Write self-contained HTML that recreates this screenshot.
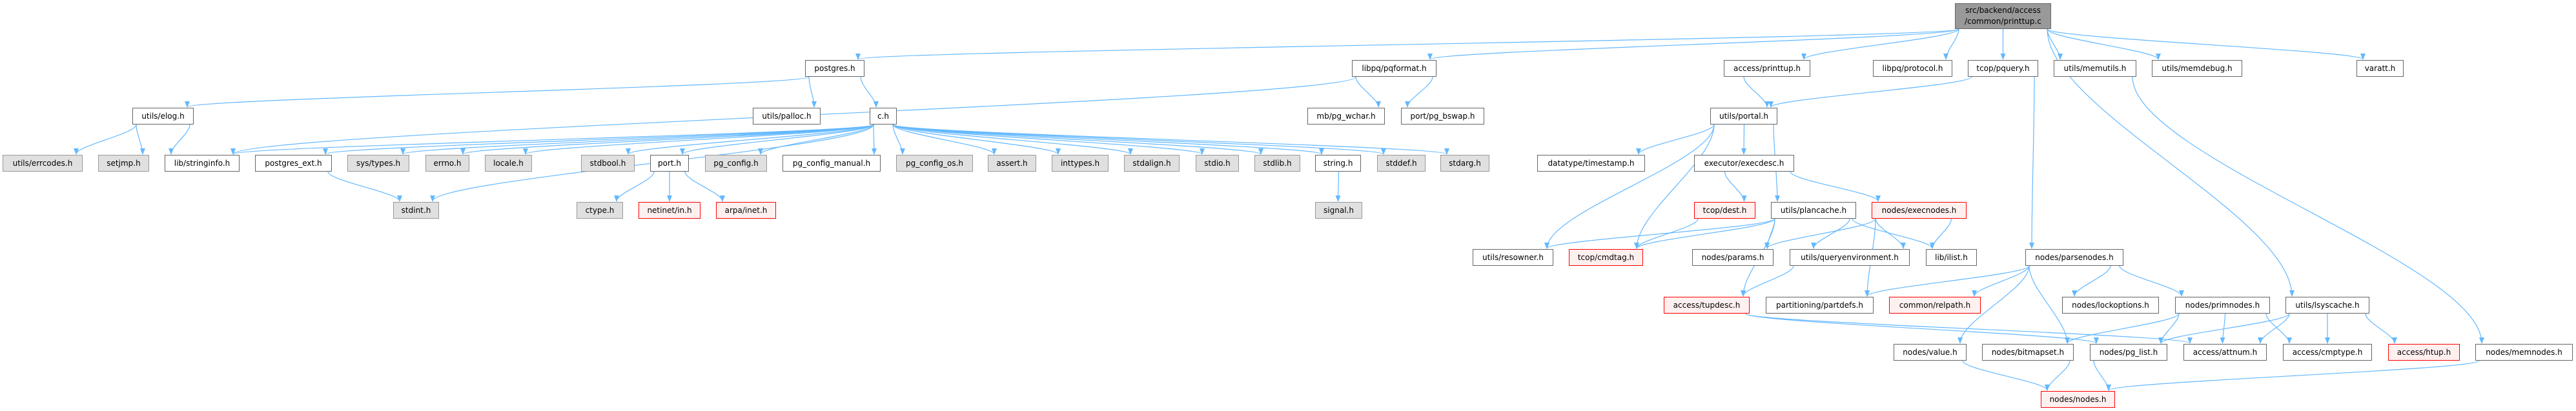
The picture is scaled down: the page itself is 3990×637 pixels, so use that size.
<!DOCTYPE html>
<html><head><meta charset="utf-8"><style>
html,body{margin:0;padding:0;background:#fff;width:3990px;height:637px;overflow:hidden;}
#c{position:relative;width:3990px;height:637px;}
.n{position:absolute;box-sizing:border-box;height:26px;border:1px solid #666;background:#fff;font-family:"DejaVu Sans","Liberation Sans",sans-serif;font-size:12px;line-height:24px;text-align:center;color:#000;white-space:nowrap;overflow:hidden;}
.g{background:#e0e0e0;border-color:#999;}
.r{background:#fff0f0;border-color:#f00;}
svg{position:absolute;left:0;top:0;}
</style></head><body><div id="c">
<svg id="s" width="3990" height="637"><defs><marker id="a" markerWidth="10" markerHeight="8" refX="9" refY="4" orient="auto" markerUnits="userSpaceOnUse"><path d="M0,0 L10,4 L0,8 z" fill="#63b8ff"/></marker></defs></svg>
</div>
<script>
var R=[5,93,167,240,313,386,460,533,606];
var N={
root:[3028,3177,0,'',"src/backend/access<br>/common/printtup.c"],
postgres:[1247,1339,1,'','postgres.h'],
pqformat:[2094,2225,1,'','libpq/pqformat.h'],
aprinttup:[2670,2804,1,'','access/printtup.h'],
protocol:[2901,3024,1,'','libpq/protocol.h'],
pquery:[3048,3157,1,'','tcop/pquery.h'],
memutils:[3181,3309,1,'','utils/memutils.h'],
memdebug:[3333,3473,1,'','utils/memdebug.h'],
varatt:[3650,3723,1,'','varatt.h'],
elog:[205,300,2,'','utils/elog.h'],
palloc:[1166,1271,2,'','utils/palloc.h'],
ch:[1347,1389,2,'','c.h'],
wchar:[2025,2145,2,'','mb/pg_wchar.h'],
bswap:[2170,2299,2,'','port/pg_bswap.h'],
portal:[2649,2753,2,'','utils/portal.h'],
errcodes:[4,128,3,'g','utils/errcodes.h'],
setjmp:[152,231,3,'g','setjmp.h'],
stringinfo:[255,371,3,'','lib/stringinfo.h'],
pgext:[395,514,3,'','postgres_ext.h'],
systypes:[538,634,3,'g','sys/types.h'],
errno:[659,727,3,'g','errno.h'],
locale:[751,824,3,'g','locale.h'],
stdbool:[900,983,3,'g','stdbool.h'],
port:[1007,1067,3,'','port.h'],
pgconfig:[1092,1188,3,'g','pg_config.h'],
pgcm:[1212,1364,3,'','pg_config_manual.h'],
pgcos:[1388,1507,3,'g','pg_config_os.h'],
assert:[1530,1605,3,'g','assert.h'],
inttypes:[1629,1717,3,'g','inttypes.h'],
stdalign:[1741,1827,3,'g','stdalign.h'],
stdio:[1852,1919,3,'g','stdio.h'],
stdlib:[1943,2014,3,'g','stdlib.h'],
string:[2037,2108,3,'','string.h'],
stddef:[2133,2208,3,'g','stddef.h'],
stdarg:[2231,2307,3,'g','stdarg.h'],
timestamp:[2381,2548,3,'','datatype/timestamp.h'],
execdesc:[2624,2779,3,'','executor/execdesc.h'],
stdint:[609,680,4,'g','stdint.h'],
ctype:[893,965,4,'g','ctype.h'],
netinet:[989,1085,4,'r','netinet/in.h'],
arpa:[1109,1202,4,'r','arpa/inet.h'],
signal:[2037,2110,4,'g','signal.h'],
dest:[2624,2719,4,'r','tcop/dest.h'],
plancache:[2743,2875,4,'','utils/plancache.h'],
execnodes:[2899,3046,4,'r','nodes/execnodes.h'],
resowner:[2281,2406,5,'','utils/resowner.h'],
cmdtag:[2430,2545,5,'r','tcop/cmdtag.h'],
params:[2621,2747,5,'','nodes/params.h'],
qenv:[2772,2958,5,'','utils/queryenvironment.h'],
ilist:[2983,3062,5,'','lib/ilist.h'],
parsenodes:[3137,3289,5,'','nodes/parsenodes.h'],
tupdesc:[2577,2710,6,'r','access/tupdesc.h'],
partdefs:[2735,2902,6,'','partitioning/partdefs.h'],
relpath:[2926,3068,6,'r','common/relpath.h'],
lockopt:[3194,3344,6,'','nodes/lockoptions.h'],
primnodes:[3369,3516,6,'','nodes/primnodes.h'],
lsyscache:[3540,3670,6,'','utils/lsyscache.h'],
value:[2933,3046,7,'','nodes/value.h'],
bitmapset:[3070,3212,7,'','nodes/bitmapset.h'],
pglist:[3237,3357,7,'','nodes/pg_list.h'],
attnum:[3382,3511,7,'','access/attnum.h'],
cmptype:[3536,3674,7,'','access/cmptype.h'],
htup:[3699,3810,7,'r','access/htup.h'],
memnodes:[3834,3985,7,'','nodes/memnodes.h'],
nodes:[3161,3276,8,'r','nodes/nodes.h']
};
var E={
root:'postgres pqformat aprinttup protocol pquery memutils memdebug varatt lsyscache',
postgres:'elog palloc ch',
elog:'errcodes setjmp stringinfo',
ch:'stringinfo pgext systypes errno locale stdbool port pgconfig pgcm pgcos assert inttypes stdalign stdio stdlib string stddef stdarg stdint',
pqformat:'stringinfo wchar bswap',
pgext:'stdint',
port:'ctype netinet arpa',
string:'signal',
aprinttup:'portal',
pquery:'portal parsenodes',
portal:'timestamp execdesc plancache resowner cmdtag',
execdesc:'dest execnodes',
dest:'cmdtag',
plancache:'cmdtag resowner tupdesc params qenv ilist',
execnodes:'params qenv ilist partdefs',
qenv:'tupdesc',
tupdesc:'pglist attnum',
parsenodes:'partdefs relpath lockopt primnodes value bitmapset',
primnodes:'pglist attnum cmptype bitmapset',
lsyscache:'pglist attnum cmptype htup',
memutils:'memnodes',
memnodes:'nodes',
value:'nodes',bitmapset:'nodes',pglist:'nodes'
};
var c=document.getElementById('c'),s=document.getElementById('s');
for(var k in N){var n=N[k],d=document.createElement('div');d.className='n '+n[3];
d.style.left=n[0]+'px';d.style.width=(n[1]-n[0])+'px';d.style.top=R[n[2]]+'px';
if(k=='root'){d.style.height='40px';d.style.lineHeight='17px';d.style.paddingTop='2px';d.style.background='#999';d.style.borderColor='#666';}
d.innerHTML=n[4];c.appendChild(d);}
function cl(v,a,b){return Math.max(a,Math.min(b,v));}
for(var k in E){var a=N[k],tl=E[k].split(' ');
for(var i=0;i<tl.length;i++){var b=N[tl[i]];
var ay=R[a[2]]+(k=='root'?40:26),by=R[b[2]];
var acx=(a[0]+a[1])/2,bcx=(b[0]+b[1])/2;
var sx=cl(bcx,a[0]+6,a[1]-6),ex=cl(acx,b[0]+10,b[1]-10);
var p=document.createElementNS('http://www.w3.org/2000/svg','path');
var my=(ay+by)/2;
p.setAttribute('d','M'+sx+','+ay+' C'+sx+','+(ay+(by-ay)*0.3)+' '+ex+','+(by-(by-ay)*0.3)+' '+ex+','+(by-1));
p.setAttribute('fill','none');p.setAttribute('stroke','#63b8ff');p.setAttribute('stroke-width','1.2');
p.setAttribute('marker-end','url(#a)');s.appendChild(p);}}
</script>
</body></html>
